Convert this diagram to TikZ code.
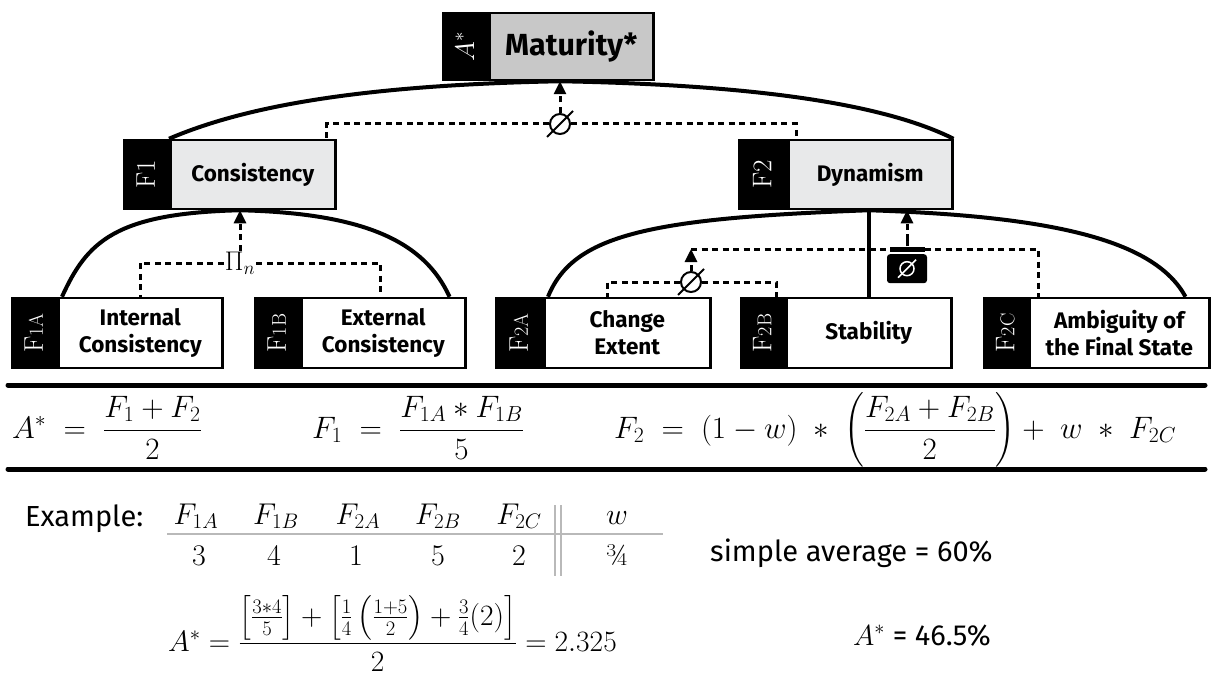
\RequirePackage{fix-cm}
\documentclass[tikz,border=0pt]{standalone}
\usepackage{amsmath}
\usepackage{fontspec}
\newfontfamily\sff{Fira Sans}
\usetikzlibrary{calc,arrows.meta}
\definecolor{gA}{RGB}{200,200,200}
\definecolor{gB}{RGB}{232,233,234}
\definecolor{rulec}{RGB}{185,185,185}
\newcommand\subl[1]{{\fontsize{20}{20}\selectfont #1}}
\begin{document}
\begin{tikzpicture}[x=1pt,y=-1pt,
 box/.style={draw,line width=2.5pt,inner sep=0pt,align=center,anchor=west,font=\sff\bfseries\fontsize{22.5}{27}\selectfont},
 tagb/.style={draw,line width=2.5pt,fill=black,text=white,inner sep=0pt,minimum width=44pt,anchor=east,font=\rmfamily\fontsize{27}{27}\selectfont},
 conn/.style={line width=4pt},
 dsh/.style={line width=3pt,dash pattern=on 6pt off 4.5pt},
 arr/.style={dsh,-{Triangle[length=13pt,width=12pt]}},
 phi/.style={circle,draw,line width=2pt,minimum size=20pt,inner sep=0pt},
 slash/.style={line width=2pt},
 eq/.style={anchor=base west,inner sep=0pt,font=\fontsize{31}{36}\selectfont},
 txt/.style={anchor=base west,inner sep=0pt,font=\sff\fontsize{29}{32}\selectfont},
 tab/.style={anchor=base,inner sep=0pt,font=\fontsize{30}{34}\selectfont},
]
\useasboundingbox (0,0) rectangle (1213,682);
\fill[white] (0,0) rectangle (1213,682);

% ---------- boxes ----------
\node[box,fill=gA,minimum width=164pt,minimum height=67pt,font=\sff\bfseries\fontsize{30.5}{34}\selectfont] (a) at (488,46.5) {Maturity*};
\node[tagb,minimum height=67pt] (at) at (a.west) {\rotatebox{90}{$A^{*}$}};

\node[box,fill=gB,minimum width=165pt,minimum height=69pt] (f1) at (169,174.5) {Consistency};
\node[tagb,minimum height=69pt] (f1t) at (f1.west) {\rotatebox{90}{F1}};
\node[box,fill=gB,minimum width=164pt,minimum height=69pt] (f2) at (787,174.5) {Dynamism};
\node[tagb,minimum height=69pt,minimum width=47pt] (f2t) at (f2.west) {\rotatebox{90}{F2}};

\node[box,fill=white,minimum width=164pt,minimum height=70pt] (f1a) at (57,333) {Internal\\Consistency};
\node[tagb,minimum height=70pt] (f1at) at (f1a.west) {\rotatebox{90}{F\subl{1A}}};
\node[box,fill=white,minimum width=164pt,minimum height=70pt] (f1b) at (300,333) {External\\Consistency};
\node[tagb,minimum height=70pt] (f1bt) at (f1b.west) {\rotatebox{90}{F\subl{1B}}};
\node[box,fill=white,minimum width=166pt,minimum height=70pt] (f2a) at (543,333) {Change\\Extent};
\node[tagb,minimum height=70pt,minimum width=46pt] (f2at) at (f2a.west) {\rotatebox{90}{F\subl{2A}}};
\node[box,fill=white,minimum width=165pt,minimum height=70pt] (f2b) at (785,333) {Stability};
\node[tagb,minimum height=70pt,minimum width=43pt] (f2bt) at (f2b.west) {\rotatebox{90}{F\subl{2B}}};
\node[box,fill=white,minimum width=180pt,minimum height=70pt] (f2c) at (1028,333) {Ambiguity of\\the Final State};
\node[tagb,minimum height=70pt,minimum width=43pt] (f2ct) at (f2c.west) {\rotatebox{90}{F\subl{2C}}};

% ---------- operators ----------
\node[phi] (p1) at (560,124) {};
\draw[slash] ($(p1)+(-13,13)$) -- ($(p1)+(13,-13)$);
\node[inner sep=1pt,font=\fontsize{27}{27}\selectfont] (pin) at (240,263) {$\Pi_n$};
\node[phi] (p2) at (691,282) {};
\draw[slash] ($(p2)+(-13,13)$) -- ($(p2)+(13,-13)$);

% weight
\node[fill=black,minimum width=35pt,minimum height=5pt,inner sep=0pt] (wb) at (907,249) {};
\node[fill=black,rounded corners=3pt,minimum width=40pt,minimum height=29pt,inner sep=0pt,anchor=north] (w) at (907,254) {};
\node[circle,draw=white,line width=1.5pt,minimum size=14pt,inner sep=0pt] (wp) at (w) {};
\draw[white,line width=1.5pt] ($(wp)+(-9,9)$) -- ($(wp)+(9,-9)$);

% ---------- solid connectors ----------
\draw[conn] (a.south -| p1) .. controls +(-210,4) and +(70,-30) .. (f1t.north east);
\draw[conn] (a.south -| p1) .. controls +(220,4) and +(-60,-30) .. (f2.north east);
\draw[conn] (f1.south -| pin) .. controls +(-125,3) and +(25,-55) .. ($(f1a.north west)+(5,0)$);
\draw[conn] (f1.south -| pin) .. controls +(125,3) and +(-25,-55) .. ($(f1b.north east)+(-17,0)$);
\draw[conn] (f2.south -| f2b) .. controls +(-220,8) and +(25,-62) .. ($(f2a.north west)+(5,0)$);
\draw[conn] (f2.south -| f2b) .. controls +(190,6) and +(-30,-55) .. ($(f2c.north east)+(-25,0)$);
\draw[conn] (f2.south -| f2b) -- (f2b.north);

% ---------- dashed connectors ----------
\draw[dsh] (p1.west) -| ($(f1.north east)+(-10,0)$);
\draw[dsh] (p1.east) -| ($(f2.north west)+(9,0)$);
\draw[arr] (p1.north) -- (a.south -| p1);
\draw[dsh] (pin.west) -| ($(f1a.north west)+(83,0)$);
\draw[dsh] (pin.east) -| ($(f1b.north west)+(80,0)$);
\draw[arr] (pin.north) -- (f1.south -| pin);
\draw[dsh] (p2.west) -| ($(f2a.north west)+(64,0)$);
\draw[dsh] (p2.east) -| ($(f2b.north west)+(-9,0)$);
\coordinate (j) at (691,249);
\draw[arr] (p2.north) -- (j);
\draw[dsh] (j) -- (wb.west);
\draw[dsh] (wb.east) -| ($(f2c.north west)+(10,0)$);
\draw[line width=3pt] (wb.north) -- ++(0,-6) coordinate (ws);
\draw[arr] (ws) -- (f2.south -| ws);

% ---------- formulas ----------
\draw[line width=5pt,line cap=round] (8,385) -- (1205,385);
\draw[line width=5pt,line cap=round] (8,469) -- (1205,469);
\node[eq] (e1) at (12,438) {$A^*\;=\;\dfrac{F_1+F_2}{2}$};
\node[eq] (e2) at (312,438) {$F_1\;=\;\dfrac{F_{1A}\ast F_{1B}}{5}$};
\node[eq] (e3) at (614,438) {$F_2\;=\;(1-w)\;\ast\;\left(\dfrac{F_{2A}+F_{2B}}{2}\right)+\;w\;\ast\;F_{2C}$};

% ---------- example ----------
\node[txt] (ex) at (25,526) {Example:};
\node[tab] (h1) at (196,524) {$F_{1A}$};
\node[tab] (h2) at (276,524) {$F_{1B}$};
\node[tab] (h3) at (358,524) {$F_{2A}$};
\node[tab] (h4) at (438,524) {$F_{2B}$};
\node[tab] (h5) at (519,524) {$F_{2C}$};
\node[tab] (h6) at (617,524) {$w$};
\node[tab] (v1) at (199,565) {3};
\node[tab] (v2) at (274,565) {4};
\node[tab] (v3) at (356,565) {1};
\node[tab] (v4) at (438,565) {5};
\node[tab] (v5) at (519,565) {2};
\node[tab] (v6) at (617,565) {¾};
\draw[rulec,line width=1.2pt] (167,534) -- (663,534);
\draw[rulec,line width=1.2pt] (555,505) -- (555,576);
\draw[rulec,line width=1.2pt] (561,505) -- (561,576);
\node[txt] (sa) at (710,561) {simple average = 60\%};
\node[eq,font=\fontsize{29.5}{34}\selectfont] (e4) at (168,651) {$A^*=\dfrac{\left[\frac{3*4}{5}\right]+\left[\frac{1}{4}\left(\frac{1+5}{2}\right)+\frac{3}{4}(2)\right]}{2}=2.325$};
\node[txt] (ap) at (853,645) {$A^*$ = 46.5\%};
\end{tikzpicture}
\end{document}
